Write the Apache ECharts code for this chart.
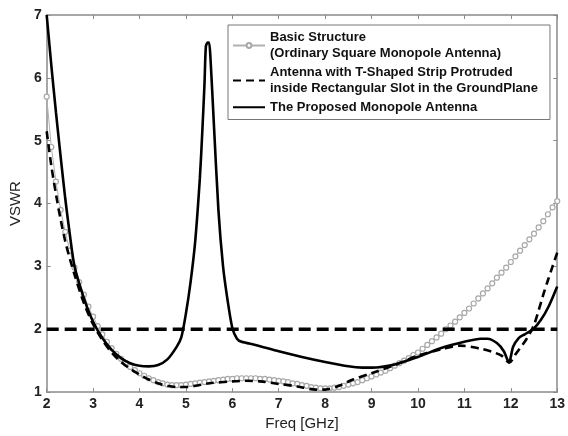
<!DOCTYPE html>
<html>
<head>
<meta charset="utf-8">
<script src="https://cdn.jsdelivr.net/npm/echarts@6/dist/echarts.min.js"></script>
<style>
  html, body { margin: 0; padding: 0; background: #fff; }
  #chart { width: 568px; height: 436px; }
</style>
</head>
<body>
<div id="chart"></div>
<script>
// basic structure, read every 0.1 GHz from 2 to 13
var basicStart = 2.0;
var basicStep = 0.1;
var basicVswr = [
  5.70, 4.90, 4.35, 3.90, 3.55, 3.25, 2.98, 2.75, 2.55, 2.36,
  2.20, 2.05, 1.92, 1.80, 1.70, 1.61, 1.53, 1.46, 1.40, 1.35,
  1.30, 1.26, 1.22, 1.19, 1.16, 1.14, 1.12, 1.11, 1.11, 1.11,
  1.12, 1.13, 1.14, 1.15, 1.16, 1.17, 1.18, 1.19, 1.20, 1.21,
  1.21, 1.22, 1.22, 1.22, 1.22, 1.22, 1.21, 1.21, 1.20, 1.19,
  1.18, 1.17, 1.16, 1.14, 1.13, 1.11, 1.10, 1.08, 1.07, 1.06,
  1.06, 1.06, 1.07, 1.08, 1.10, 1.12, 1.14, 1.16, 1.19, 1.22,
  1.25, 1.28, 1.31, 1.34, 1.38, 1.42, 1.46, 1.50, 1.54, 1.59,
  1.63, 1.69, 1.75, 1.81, 1.87, 1.93, 2.00, 2.06, 2.12, 2.19,
  2.26, 2.33, 2.41, 2.49, 2.57, 2.65, 2.73, 2.82, 2.90, 2.98,
  3.07, 3.16, 3.25, 3.34, 3.43, 3.52, 3.62, 3.72, 3.83, 3.94,
  4.04
];

// T-shaped strip antenna
var tFreq = [2.0, 2.1, 2.2, 2.3, 2.4, 2.5, 2.6, 2.8, 3.0, 3.2, 3.4, 3.6, 3.8, 4.0,
  4.2, 4.4, 4.6, 4.8, 5.0, 5.2, 5.5, 6.0, 6.3, 6.6, 7.0, 7.4, 7.8, 8.0, 8.3, 8.6,
  9.0, 9.5, 10.0, 10.5, 10.9, 11.35, 11.6, 11.8, 11.97, 12.1, 12.2, 12.3, 12.4,
  12.5, 12.6, 12.7, 12.8, 12.9, 13.0];
var tVswr = [5.15, 4.60, 4.15, 3.75, 3.40, 3.12, 2.87, 2.42, 2.08, 1.83, 1.63, 1.48, 1.37, 1.28,
  1.20, 1.14, 1.10, 1.08, 1.08, 1.10, 1.14, 1.17, 1.18, 1.17, 1.13, 1.09, 1.04, 1.04, 1.10, 1.20,
  1.30, 1.43, 1.58, 1.68, 1.74, 1.69, 1.64, 1.58, 1.47, 1.60, 1.70, 1.80, 1.92,
  2.07, 2.30, 2.55, 2.78, 3.00, 3.22];

// proposed monopole antenna
var propFreq = [2.0, 2.1, 2.2, 2.3, 2.4, 2.5, 2.6, 2.8, 3.0, 3.2, 3.4, 3.6, 3.8, 4.0,
  4.2, 4.4, 4.6, 4.8, 4.9, 5.0, 5.1, 5.2, 5.3, 5.35, 5.4, 5.43, 5.47, 5.5, 5.53, 5.6,
  5.7, 5.8, 5.9, 6.0, 6.1, 6.2, 6.5, 7.0, 7.5, 8.0, 8.5, 8.8, 9.0, 9.5, 10.0, 10.5,
  11.0, 11.35, 11.5, 11.7, 11.85, 11.96, 12.05, 12.17, 12.3, 12.48, 12.65, 12.82, 13.0];
var propVswr = [7.00, 6.20, 5.45, 4.75, 4.08, 3.50, 3.00, 2.50, 2.12, 1.86, 1.67, 1.54, 1.46, 1.42,
  1.41, 1.43, 1.52, 1.72, 1.87, 2.25, 2.75, 3.40, 4.40, 5.10, 5.90, 6.50, 6.56, 6.56, 6.30, 5.30,
  3.90, 3.00, 2.45, 2.02, 1.85, 1.80, 1.75, 1.65, 1.56, 1.48, 1.41, 1.39, 1.39, 1.44, 1.56, 1.70,
  1.80, 1.85, 1.85, 1.78, 1.65, 1.47, 1.72, 1.86, 1.92, 2.00, 2.15, 2.37, 2.68];

// VSWR = 2 line
var limitFreq = [2, 13];
var limitVswr = [2, 2];

var seriesNames = [
  'Basic Structure\n(Ordinary Square Monopole Antenna)',
  'Antenna with T-Shaped Strip Protruded\ninside Rectangular Slot in the GroundPlane',
  'The Proposed Monopole Antenna'
];

function pairs(xs, ys) {
  var out = [];
  for (var i = 0; i < ys.length; i++) out.push([xs[i], ys[i]]);
  return out;
}

var basicData = basicVswr.map(function (v, i) {
  return [+(basicStart + i * basicStep).toFixed(2), v];
});

var chart = echarts.init(document.getElementById('chart'));

var axisGrey = '#8a8a8a';
var fontArial = 'Arial, "Liberation Sans", sans-serif';
var tickFont = { color: '#222', fontSize: 14, fontWeight: 'bold', fontFamily: fontArial };

function frameAxis(pos, min, max) {
  return {
    type: 'value', position: pos,
    min: min, max: max, interval: 1,
    axisLine: { show: true, lineStyle: { color: axisGrey, width: 1.5 } },
    axisTick: { show: true, inside: true, length: 4, lineStyle: { color: axisGrey } },
    axisLabel: { show: false },
    splitLine: { show: false }
  };
}

var option = {
  backgroundColor: '#fff',
  animation: false,
  grid: { left: 40, right: 7, top: 15, bottom: 39, containLabel: false },
  legend: {
    data: [
      { name: seriesNames[0] },
      { name: seriesNames[1], itemStyle: { opacity: 0 } },
      { name: seriesNames[2], itemStyle: { opacity: 0 } }
    ],
    orient: 'vertical',
    left: 228,
    top: 25,
    width: 324,
    padding: [4, 12, 4, 4],
    itemGap: 2,
    itemWidth: 32,
    itemHeight: 6,
    borderColor: '#777',
    borderWidth: 1,
    backgroundColor: '#fff',
    textStyle: {
      color: '#111', fontSize: 13, fontWeight: 'bold', lineHeight: 16.5,
      fontFamily: fontArial
    }
  },
  xAxis: [{
    type: 'value',
    min: 2, max: 13, interval: 1,
    name: 'Freq [GHz]',
    nameLocation: 'middle',
    nameGap: 20,
    nameTextStyle: { color: '#222', fontSize: 15, fontFamily: fontArial, verticalAlign: 'top' },
    axisLine: { show: true, lineStyle: { color: axisGrey, width: 1.5 } },
    axisTick: { show: true, inside: true, length: 4, lineStyle: { color: axisGrey } },
    axisLabel: Object.assign({ margin: 5 }, tickFont),
    splitLine: { show: false }
  }, frameAxis('top', 2, 13)],
  yAxis: [{
    type: 'value',
    min: 1, max: 7, interval: 1,
    name: 'VSWR',
    nameLocation: 'middle',
    nameGap: 22,
    nameTextStyle: { color: '#222', fontSize: 15, fontFamily: fontArial },
    axisLine: { show: true, lineStyle: { color: axisGrey, width: 1.5 } },
    axisTick: { show: true, inside: true, length: 4, lineStyle: { color: axisGrey } },
    axisLabel: Object.assign({ margin: 5 }, tickFont),
    splitLine: { show: false }
  }, frameAxis('right', 1, 7)],
  series: [
    {
      name: seriesNames[0],
      type: 'line',
      data: basicData,
      symbol: 'circle',
      symbolSize: 5,
      showAllSymbol: true,
      itemStyle: { color: '#fff', borderColor: '#a8a8a8', borderWidth: 1.2 },
      lineStyle: { color: '#b0b0b0', width: 1 },
      z: 2
    },
    {
      name: seriesNames[1],
      type: 'line',
      data: pairs(tFreq, tVswr),
      smooth: 0.3,
      symbol: 'none',
      itemStyle: { color: '#000' },
      lineStyle: { color: '#000', width: 2.6, type: [8, 5] },
      z: 3
    },
    {
      name: seriesNames[2],
      type: 'line',
      data: pairs(propFreq, propVswr),
      smooth: 0.25,
      symbol: 'none',
      itemStyle: { color: '#000' },
      lineStyle: { color: '#000', width: 2.6 },
      z: 4
    },
    {
      name: 'limit',
      type: 'line',
      data: pairs(limitFreq, limitVswr),
      symbol: 'none',
      silent: true,
      lineStyle: { color: '#000', width: 3.5, type: [12, 6] },
      z: 5
    }
  ]
};

chart.setOption(option);
</script>
</body>
</html>
